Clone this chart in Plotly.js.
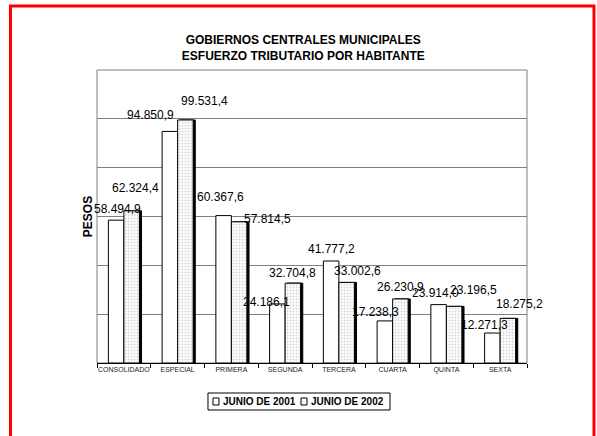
<!DOCTYPE html>
<html>
<head>
<meta charset="utf-8">
<script src="https://cdn.plot.ly/plotly-3.0.1.min.js"></script>
<style>
html,body{margin:0;padding:0;background:#fff;}
#chart{width:597px;height:436px;}
</style>
</head>
<body>
<div id="chart"></div>
<script>
const categories = ['CONSOLIDADO','ESPECIAL','PRIMERA','SEGUNDA','TERCERA','CUARTA','QUINTA','SEXTA'];
const junio2001 = [58494.9, 94850.9, 60367.6, 24186.1, 41777.2, 17238.3, 23914.0, 12271.3];
const junio2002 = [62324.4, 99531.4, 57814.5, 32704.8, 33002.6, 26230.9, 23196.5, 18275.2];
const seriesNames = ['JUNIO DE 2001', 'JUNIO DE 2002'];

// label offsets (pixels) relative to each bar top, mimicking the original placement
const off2001 = [[1,-11],[-19,-16],[-3,-19],[-11,-2],[0,-12],[-9,-9],[-3,-12],[-8,-8]];
const off2002 = [[4,-23],[19,-19],[28,-3],[0,-10],[11,-11],[0,-12],[19,-16],[12,-14]];

function fmt(v){
  const parts = v.toFixed(1).split('.');
  const intPart = parts[0].replace(/\B(?=(\d{3})+(?!\d))/g, '.');
  return intPart + ',' + parts[1];
}

const FONT = 'Liberation Sans, Arial, sans-serif';
const BW = 0.2884;          // bar width in category units
const halfBar = 7.75;       // half bar width in px
const pattern2002 = {shape:'.', fgcolor:'#d6d6d6', bgcolor:'#ffffff', size:3, solidity:0.3};

const traces = [
  {
    type:'bar', name: seriesNames[0], x: categories, y: junio2001,
    offset:-BW, width:BW,
    marker:{color:'#ffffff', line:{color:'#000000', width:1}},
    hoverinfo:'skip', showlegend:false
  },
  { // shadow of the 2002 bars
    type:'bar', name: seriesNames[1] + ' sombra', x: categories, y: junio2002,
    offset:0.04, width:BW,
    marker:{color:'#000000', line:{color:'#000000', width:1}},
    hoverinfo:'skip', showlegend:false
  },
  {
    type:'bar', name: seriesNames[1], x: categories, y: junio2002,
    offset:0, width:BW,
    marker:{color:'#ffffff', line:{color:'#000000', width:1}, pattern:pattern2002},
    hoverinfo:'skip', showlegend:false
  }
];

const annotations = [];
categories.forEach((c,i)=>{
  annotations.push({x:c, y:junio2001[i], xref:'x', yref:'y', text:fmt(junio2001[i]), showarrow:false,
    xanchor:'center', yanchor:'middle', xshift:-halfBar+off2001[i][0], yshift:-off2001[i][1],
    font:{family:FONT, size:12, color:'#000'}});
  annotations.push({x:c, y:junio2002[i], xref:'x', yref:'y', text:fmt(junio2002[i]), showarrow:false,
    xanchor:'center', yanchor:'middle', xshift:halfBar+off2002[i][0], yshift:-off2002[i][1],
    font:{family:FONT, size:12, color:'#000'}});
});

// custom compact legend (paper coordinates)
const legendFont = {family:FONT, size:10, color:'#000'};
annotations.push({xref:'paper', yref:'paper', x:0.2884, y:-0.1314, xanchor:'left', yanchor:'middle',
  text:'<b>'+seriesNames[0]+'</b>', showarrow:false, font:legendFont});
annotations.push({xref:'paper', yref:'paper', x:0.4930, y:-0.1314, xanchor:'left', yanchor:'middle',
  text:'<b>'+seriesNames[1]+'</b>', showarrow:false, font:legendFont});

const layout = {
  width:597, height:436,
  margin:{l:97, r:70, t:70, b:73},
  paper_bgcolor:'#ffffff', plot_bgcolor:'#ffffff',
  font:{family:FONT, color:'#000'},
  title:{text:'<b>GOBIERNOS CENTRALES MUNICIPALES<br>ESFUERZO TRIBUTARIO POR HABITANTE</b>',
    font:{family:FONT, size:12, color:'#000'}, x:0.508, xanchor:'center', xref:'container',
    y:0.899, yanchor:'middle', yref:'container'},
  barmode:'overlay',
  xaxis:{type:'category', range:[-0.5, 7.5], showline:true, linecolor:'#000', linewidth:1,
    ticks:'outside', tickson:'boundaries', ticklen:4, tickcolor:'#000', tickangle:0,
    tickfont:{family:FONT, size:7, color:'#222'}, showgrid:false, fixedrange:true},
  yaxis:{range:[0,120000], dtick:20000, showgrid:true, gridcolor:'#808080', gridwidth:1,
    showticklabels:false, ticks:'', zeroline:false, showline:false,
    title:{text:'<b>PESOS</b>', font:{family:FONT, size:12, color:'#000'}, standoff:0}, fixedrange:true},
  showlegend:false,
  shapes:[
    {type:'rect', xref:'paper', yref:'paper', x0:0, x1:1, y0:0, y1:1,
      line:{color:'#808080', width:1}, layer:'below'},
    {type:'rect', xref:'paper', yref:'paper', x0:-0.2012, x1:1.1558, y0:-0.263, y1:1.2184,
      line:{color:'#ff0000', width:3}, layer:'below'},
    // legend box and swatches
    {type:'rect', xref:'paper', yref:'paper', x0:0.2581, x1:0.6814, y0:-0.1604, y1:-0.1024,
      line:{color:'#000', width:1}, fillcolor:'#fff', layer:'above'},
    {type:'rect', xref:'paper', yref:'paper', x0:0.2698, x1:0.2837, y0:-0.1433, y1:-0.1195,
      line:{color:'#000', width:1}, fillcolor:'#fff', layer:'above'},
    {type:'rect', xref:'paper', yref:'paper', x0:0.4744, x1:0.4884, y0:-0.1433, y1:-0.1195,
      line:{color:'#000', width:1}, fillcolor:'#f4f4f4', layer:'above'}
  ],
  annotations: annotations
};

Plotly.newPlot('chart', traces, layout, {displayModeBar:false, staticPlot:true});
</script>
</body>
</html>
